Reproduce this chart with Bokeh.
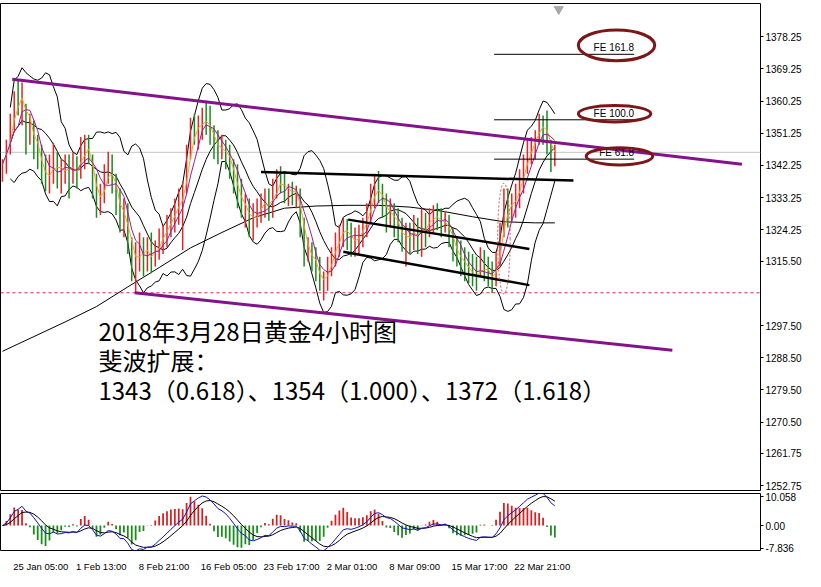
import pandas as pd
from bokeh.plotting import figure
from bokeh.layouts import column
from bokeh.models import Span, Label, FixedTicker, Range1d, PrintfTickFormatter
from bokeh.core.properties import value
from bokeh.embed import file_html
from bokeh.resources import INLINE

# ---------------- data (gold, 4-hour chart) ----------------
high = [1344.0, 1349.4, 1356.7, 1363.0, 1366.0, 1365.4, 1359.5, 1356.7, 1354.8, 1350.8,
        1348.0, 1345.3, 1345.3, 1348.6, 1345.9, 1344.0, 1345.3, 1345.3, 1345.9, 1344.8,
        1350.2, 1350.8, 1350.8, 1345.3, 1339.9, 1337.1, 1342.6, 1346.1, 1345.3, 1339.9,
        1335.8, 1333.0, 1331.7, 1322.2, 1320.8, 1323.5, 1322.2, 1322.2, 1323.5, 1321.3,
        1324.6, 1325.7, 1328.4, 1330.3, 1333.0, 1335.8, 1337.7, 1348.0, 1355.6, 1356.7,
        1356.2, 1358.4, 1360.3, 1358.9, 1353.5, 1352.1, 1350.8, 1349.4, 1348.0, 1344.0,
        1342.6, 1338.5, 1334.4, 1333.0, 1331.7, 1333.0, 1334.4, 1335.8, 1335.8, 1338.5,
        1341.2, 1342.0, 1339.9, 1337.1, 1337.7, 1336.6, 1335.8, 1327.6, 1322.2, 1320.8,
        1319.4, 1316.7, 1312.6, 1316.7, 1319.4, 1323.5, 1325.7, 1327.6, 1327.3, 1326.2,
        1324.9, 1325.7, 1327.6, 1331.7, 1337.1, 1339.9, 1340.7, 1337.1, 1334.4, 1333.0,
        1331.7, 1330.3, 1327.6, 1326.2, 1326.2, 1328.4, 1327.6, 1330.3, 1329.0, 1330.3,
        1331.1, 1331.7, 1330.3, 1329.5, 1328.4, 1324.9, 1322.2, 1321.3, 1319.4, 1318.1,
        1317.5, 1316.7, 1319.4, 1318.6, 1316.7, 1315.4, 1318.1, 1326.2, 1335.8, 1335.8,
        1334.4, 1337.1, 1341.2, 1345.3, 1349.4, 1350.2, 1352.1, 1356.7, 1356.2, 1357.6,
        1349.4, 1348.0]
low = [1337.7, 1339.9, 1345.3, 1352.1, 1356.2, 1353.5, 1345.3, 1348.0, 1344.0, 1341.2,
       1337.1, 1335.0, 1334.4, 1337.1, 1335.8, 1334.4, 1337.1, 1333.0, 1337.1, 1335.8,
       1338.5, 1341.2, 1342.6, 1333.0, 1327.6, 1328.4, 1331.7, 1337.1, 1334.4, 1328.4,
       1323.5, 1322.2, 1317.5, 1309.9, 1306.7, 1312.6, 1311.3, 1312.6, 1312.1, 1314.0,
       1315.9, 1317.5, 1319.4, 1322.2, 1323.5, 1325.7, 1318.6, 1334.4, 1344.0, 1348.0,
       1346.7, 1349.4, 1350.8, 1348.0, 1344.0, 1342.6, 1344.0, 1341.2, 1338.5, 1334.4,
       1330.3, 1327.6, 1324.9, 1322.2, 1321.3, 1324.9, 1326.2, 1327.6, 1326.8, 1327.6,
       1333.0, 1334.4, 1331.7, 1330.9, 1331.1, 1330.3, 1322.2, 1314.0, 1315.4, 1312.6,
       1309.9, 1307.2, 1304.5, 1307.2, 1311.3, 1314.0, 1316.7, 1319.4, 1318.6, 1316.7,
       1316.7, 1317.5, 1319.4, 1322.2, 1326.2, 1330.3, 1331.7, 1327.6, 1323.5, 1324.9,
       1322.2, 1320.8, 1318.1, 1314.0, 1317.5, 1318.6, 1317.5, 1316.7, 1319.4, 1322.2,
       1323.5, 1324.1, 1322.2, 1323.5, 1319.4, 1315.4, 1314.0, 1311.3, 1309.9, 1309.4,
       1308.5, 1307.2, 1311.3, 1309.9, 1308.5, 1306.6, 1308.5, 1314.0, 1322.2, 1324.9,
       1326.2, 1327.6, 1330.3, 1334.4, 1339.9, 1342.6, 1344.0, 1348.0, 1348.0, 1345.3,
       1340.4, 1342.0]
close = [1342.6, 1348.0, 1354.8, 1361.6, 1358.9, 1363.0, 1350.8, 1354.0, 1348.0, 1344.0,
         1339.9, 1337.1, 1341.2, 1345.3, 1338.5, 1341.2, 1342.6, 1339.9, 1342.6, 1338.5,
         1348.0, 1348.6, 1344.0, 1335.8, 1330.3, 1334.4, 1339.9, 1342.6, 1337.1, 1331.7,
         1326.2, 1330.3, 1320.8, 1312.6, 1316.7, 1320.8, 1315.4, 1319.4, 1315.4, 1319.4,
         1322.2, 1323.5, 1325.7, 1328.4, 1330.3, 1333.0, 1334.4, 1345.3, 1353.5, 1350.8,
         1354.0, 1356.2, 1353.5, 1350.8, 1348.0, 1345.3, 1348.0, 1345.3, 1341.2, 1337.1,
         1333.0, 1330.3, 1331.1, 1324.9, 1327.6, 1330.3, 1331.7, 1333.0, 1329.0, 1335.8,
         1338.5, 1337.1, 1334.4, 1335.8, 1334.4, 1335.0, 1324.9, 1316.7, 1319.4, 1315.4,
         1312.6, 1308.5, 1309.9, 1315.4, 1317.5, 1320.8, 1323.5, 1326.2, 1322.2, 1319.4,
         1322.2, 1323.5, 1325.7, 1329.0, 1334.4, 1337.1, 1334.4, 1330.3, 1327.6, 1330.3,
         1326.2, 1323.5, 1320.8, 1323.5, 1322.2, 1324.9, 1320.8, 1326.2, 1324.9, 1327.6,
         1329.0, 1326.8, 1324.9, 1327.6, 1322.2, 1318.1, 1316.7, 1315.4, 1314.0, 1312.1,
         1311.3, 1309.9, 1316.7, 1312.6, 1310.5, 1309.9, 1316.7, 1323.5, 1331.7, 1330.3,
         1331.7, 1334.4, 1338.5, 1342.6, 1346.7, 1348.0, 1350.8, 1354.8, 1353.5, 1348.0,
         1344.0, 1345.91]
first_open = 1339.0

# long moving average
ma_long_bar = [0, 8, 16, 24, 32, 40, 48, 56, 64, 72, 80, 88, 96, 104, 112, 120, 128, 136, 141]
ma_long = [1290.3, 1294.4, 1298.5, 1302.8, 1308.3, 1313.7, 1319.2, 1323.5, 1327.6, 1330.3,
           1330.9, 1331.1, 1331.1, 1330.6, 1329.5, 1327.9, 1326.5, 1326.2, 1326.2]

price_ticks = [1378.25, 1369.25, 1360.25, 1351.25, 1342.25, 1333.25, 1324.25, 1315.50,
               1297.50, 1288.50, 1279.50, 1270.50, 1261.75, 1252.75]
last_price = 1345.91
support_price = 1306.66

time_tick_bars = [3, 19, 35, 51, 67, 83, 99, 115, 131]
time_tick_labels = ["25 Jan 05:00", "1 Feb 13:00", "8 Feb 21:00", "16 Feb 05:00",
                    "23 Feb 17:00", "2 Mar 01:00", "8 Mar 09:00", "15 Mar 17:00", "22 Mar 21:00"]

macd_ticks = [10.058, 0.0, -7.836]
macd_tick_labels = ["10.058", "0.00", "-7.836"]

fe_names = ["FE 161.8", "FE 100.0", "FE 61.8"]
fe_levels = [1373.3, 1355.0, 1344.0]

# hand-drawn objects: (bar, price) end points
channel_top = ([2.5, 188.75], [1366.3, 1342.6])
channel_bottom = ([33.75, 171.0], [1306.66, 1290.6])
resistance = ([66.0, 145.75], [1340.4, 1338.0])
flag_top = ([88.25, 134.5], [1327.1, 1318.9])
flag_bottom = ([87.0, 134.5], [1318.1, 1308.8])

note_lines = ["2018年3月28日黄金4小时图", "斐波扩展：",
              "1343（0.618）、1354（1.000）、1372（1.618）"]

# ---------------- derived indicators ----------------
n = len(close)
idx = list(range(n))
opens = [first_open] + close[:-1]
bar_colors = ["#e02626" if c >= o else "#1c8a1c" for o, c in zip(opens, close)]

c = pd.Series(close)
ma_fast = c.rolling(3, min_periods=1).mean()
ma_mid = c.rolling(5, min_periods=1).mean()
bb_mid = c.rolling(10, min_periods=3).mean()
bb_sd = c.rolling(10, min_periods=3).std(ddof=0)
bb_up = bb_mid + 2 * bb_sd
bb_dn = bb_mid - 2 * bb_sd

ema_f = c.ewm(span=6, adjust=False).mean()
ema_s = c.ewm(span=17, adjust=False).mean()
macd = ema_f - ema_s
signal = macd.ewm(span=5, adjust=False).mean()
hist = 2.5 * (macd - signal)
hist_colors = ["#d42020" if h >= 0 else "#1a8a1a" for h in hist]

# ---------------- main price panel ----------------
FONT = "Liberation Sans"
XR = Range1d(-0.5, 193.5)
p = figure(frame_width=760, frame_height=487, x_range=XR, y_range=Range1d(1251.4, 1387.5),
           output_backend="svg", toolbar_location=None, y_axis_location="right",
           x_axis_location=None, min_border_left=0, min_border_right=45,
           min_border_top=3, min_border_bottom=2)
p.grid.visible = False
p.outline_line_color = "black"
p.outline_line_width = 1
p.background_fill_color = "white"
p.yaxis.ticker = FixedTicker(ticks=price_ticks)
p.yaxis.formatter = PrintfTickFormatter(format="%.2f")
p.yaxis.major_label_text_font = FONT
p.yaxis.major_label_text_font_size = "10px"
p.yaxis.major_label_text_color = "black"
p.yaxis.major_tick_out = 3
p.yaxis.major_tick_in = 0
p.yaxis.minor_tick_line_color = None
p.yaxis.axis_line_color = None
p.yaxis.major_label_standoff = 2

p.add_layout(Span(location=last_price, dimension="width", line_color="#c4c4c4",
                  line_width=1, level="underlay"))
p.add_layout(Span(location=support_price, dimension="width", line_color="#d8284a",
                  line_width=1, line_dash="3 3", level="underlay"))

# long MA and Bollinger bands
p.line(ma_long_bar, ma_long, line_color="black", line_width=1)
p.line(idx, bb_up, line_color="black", line_width=1)
p.line(idx, bb_mid, line_color="black", line_width=1)
p.line(idx, bb_dn, line_color="black", line_width=1)

# price bars
p.segment(x0=idx, y0=low, x1=idx, y1=high, line_color=bar_colors, line_width=1.5)

# short MAs
p.line(idx, ma_fast, line_color="#eaa52a", line_width=1)
p.line(idx, ma_mid, line_color="#9a1aa0", line_width=1)

# drawn objects
p.line(channel_top[0], channel_top[1], line_color="#84128a", line_width=3)
p.line(channel_bottom[0], channel_bottom[1], line_color="#84128a", line_width=3)
for seg in (resistance, flag_top, flag_bottom):
    p.line(seg[0], seg[1], line_color="black", line_width=2.5)
p.ellipse(x=[128.0], y=[1321.8], width=[3.2], height=[31.0], fill_color=None,
          line_color="#e04848", line_width=1, line_dash="2 2")

# Fibonacci expansion levels
p.segment(x0=[125.5] * 3, y0=fe_levels, x1=[161.25] * 3, y1=fe_levels,
          line_color="black", line_width=1)
p.text(x=[161.25] * 3, y=fe_levels, text=fe_names, text_font=value(FONT),
       text_font_size=value("10px"), text_align="right", text_baseline="bottom",
       text_color="black", y_offset=-1)
p.ellipse(x=[156.75, 156.25, 157.5], y=[1375.8, 1356.7, 1344.8],
          width=[19.5, 18.5, 17.0], height=[8.6, 4.6, 4.8], fill_color=None,
          line_color="#7c1717", line_width=3)

# shift marker
p.scatter(x=[142], y=[1385.9], marker="inverted_triangle", size=9,
          fill_color="#a8a8a8", line_color="#a8a8a8")

# notes
p.text(x=[24.5] * 3, y=[1296.0, 1288.1, 1279.7], text=note_lines,
       text_font=value("Noto Sans CJK SC"), text_font_size=value("24px"),
       text_align="left", text_baseline="middle", text_color="black")

# highlighted price labels
p.add_layout(Label(x=193.5, y=last_price, x_offset=1, text="1345.91", text_font=FONT,
                   text_font_size="10px", text_color="white", text_baseline="middle",
                   background_fill_color="black", padding=1))
p.add_layout(Label(x=193.5, y=support_price, x_offset=1, text="1306.66", text_font=FONT,
                   text_font_size="10px", text_color="white", text_baseline="middle",
                   background_fill_color="#e21b1b", padding=1))

# ---------------- MACD panel ----------------
s = figure(frame_width=760, frame_height=57, x_range=XR, y_range=Range1d(-8.7, 11.2),
           output_backend="svg", toolbar_location=None, y_axis_location="right",
           min_border_left=0, min_border_right=45, min_border_top=1, min_border_bottom=18)
s.grid.visible = False
s.outline_line_color = "black"
s.vbar(x=idx, top=hist, bottom=0, width=0.45, fill_color=hist_colors, line_color=None)
s.line(idx, signal, line_color="black", line_width=1)
s.line(idx, macd, line_color="#1010c0", line_width=1)

s.yaxis.ticker = FixedTicker(ticks=macd_ticks)
s.yaxis.major_label_overrides = {t: l for t, l in zip(macd_ticks, macd_tick_labels)}
s.yaxis.major_label_text_font = FONT
s.yaxis.major_label_text_font_size = "10px"
s.yaxis.major_label_text_color = "black"
s.yaxis.major_tick_out = 3
s.yaxis.major_tick_in = 0
s.yaxis.minor_tick_line_color = None
s.yaxis.axis_line_color = None
s.yaxis.major_label_standoff = 2

# the terminal writes each time label starting at its bar: centre the label on
# (bar + half the label's width), the width taken as ~4.35 px per character
PX_PER_BAR = 4.0
tick_pos = [b + 0.25 + len(lab) * 4.35 / 2 / PX_PER_BAR
            for b, lab in zip(time_tick_bars, time_tick_labels)]
s.xaxis.ticker = FixedTicker(ticks=tick_pos)
s.xaxis.major_label_overrides = {t: l for t, l in zip(tick_pos, time_tick_labels)}
s.xaxis.major_label_text_font = FONT
s.xaxis.major_label_text_font_size = "9.5px"
s.xaxis.major_label_text_color = "black"
s.xaxis.major_tick_line_color = None
s.xaxis.minor_tick_line_color = None
s.xaxis.axis_line_color = None
s.xaxis.major_label_standoff = 4

layout = column(p, s, spacing=0)
open("out.html", "w").write(file_html(layout, INLINE))
